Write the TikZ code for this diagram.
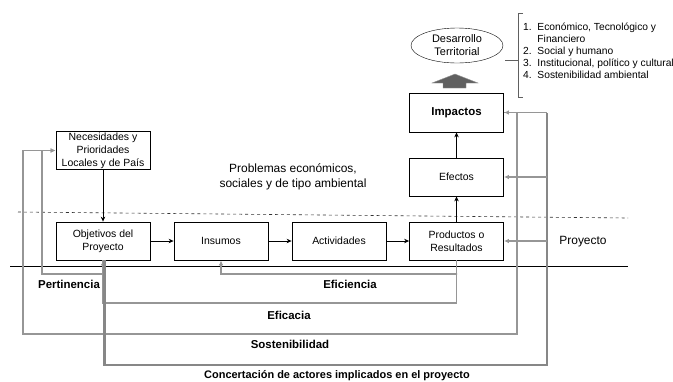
\documentclass[tikz,border=0pt]{standalone}
\usepackage{fontspec}
\setmainfont{Liberation Sans}
\usetikzlibrary{arrows.meta,shapes.geometric}
\definecolor{grisl}{RGB}{150,150,150}
\definecolor{grisf}{RGB}{96,96,96}
\tikzset{
	caja/.style={draw,thick,minimum width=94bp,minimum height=38bp,align=center,inner sep=1pt,font=\fontsize{10.5}{13}\selectfont},
	negra/.style={thick,-{Stealth[length=5pt,width=4.5pt]}},
	gris/.style={draw=grisl,line width=1.3pt},
	grisg/.style={draw=grisl!90!black,line width=2.8pt},
	punta/.style={-{Latex[length=5pt,width=4.5pt]}},
	etiq/.style={font=\fontsize{11.5}{13}\selectfont\bfseries,inner sep=0pt},
	texto/.style={font=\fontsize{12}{15}\selectfont,align=center,inner sep=0pt}
}

\begin{document}
\begin{tikzpicture}[x=1bp,y=-1bp]
	\useasboundingbox (0,0) rectangle (673,381);

	% cajas
	\node [caja] (nec) at (103,150.5) {Necesidades y\\Prioridades\\Locales y de País};
	\node [caja] (obj) at (103,241) {Objetivos del\\Proyecto};
	\node [caja] (ins) at (221,241) {Insumos};
	\node [caja] (act) at (339,241) {Actividades};
	\node [caja] (prod) at (456.5,241) {Productos o\\Resultados};
	\node [caja] (efe) at (456.5,177) {Efectos};
	\node [caja,font=\fontsize{11.5}{13}\selectfont\bfseries,minimum height=39bp] (imp) at (456.5,112.5) {Impactos};
	\node [draw,ellipse,minimum width=92bp,minimum height=35bp,inner sep=0pt,align=center,font=\fontsize{11}{13}\selectfont] (des) at (457,45.5) {Desarrollo\\Territorial};

	% flecha gruesa
	\draw [draw=grisl,fill=grisf] (443,88) -- (443,83) -- (432,83) -- (455,74) -- (478,83) -- (466,83) -- (466,88) -- cycle;

	% llave y lista
	\draw [grisf] (523,13) -- (518,13) -- (518,97) -- (523,97);
	\draw [grisf] (505,60) -- (518,60);
	\node [anchor=north west,inner sep=0pt,font=\fontsize{10.3}{12}\selectfont] (lista) at (523,22) {%
		\begin{tabular}{@{}l@{\ \ }l@{}}
		1. & Económico, Tecnológico y\\
		   & Financiero\\
		2. & Social y humano\\
		3. & Institucional, político y cultural\\
		4. & Sostenibilidad ambiental
		\end{tabular}};

	% lineas de referencia
	\draw [dashed,line width=0.6pt,black!80] (18,212) -- (628,218);
	\draw [line width=0.6pt] (10,266) -- (628,266);

	% flechas negras
	\draw [negra] (nec) -- (obj);
	\draw [negra] (obj) -- (ins);
	\draw [negra] (ins) -- (act);
	\draw [negra] (act) -- (prod);
	\draw [negra] (prod) -- (efe);
	\draw [negra] (efe) -- (imp);

	% lazos grises
	\coordinate (pe) at (42,274);
	\coordinate (ef) at (457,274);
	\coordinate (ec) at (103,303);
	\coordinate (soR) at (517,334);
	\coordinate (soL) at (23,334);
	\coordinate (co) at (547,365);

	\draw [gris,punta] (obj.south) |- (pe) |- (nec.west);
	\draw [gris,punta] (prod.south) |- (ef) -| (ins.south);
	\draw [gris,punta] (prod.south) |- (ec) -- (obj.south);
	\draw [gris,punta] (imp.east) -| (soR) -- (soL) |- (nec.west);
	\draw [grisg] ([xshift=1.5bp]obj.south) |- (co) -- (co |- imp.east);
	\draw [gris,punta] (co |- imp.east) -- (imp.east);
	\draw [gris,line width=2pt,punta] (co |- efe.east) -- (efe.east);
	\draw [gris,line width=2pt,punta] (co |- prod.east) -- (prod.east);

	% textos
	\node [texto] (prob) at (293,177) {Problemas económicos,\\sociales y de tipo ambiental};
	\node [texto] (proy) at (583,242) {Proyecto};
	\node [etiq] (pert) at (69,284) {Pertinencia};
	\node [etiq] (efic) at (350,284) {Eficiencia};
	\node [etiq] (efca) at (289,315) {Eficacia};
	\node [etiq] (sost) at (290,344) {Sostenibilidad};
	\node [etiq,font=\fontsize{11}{13}\selectfont\bfseries] (conc) at (337,376) {Concertación de actores implicados en el proyecto};
\end{tikzpicture}
\end{document}
